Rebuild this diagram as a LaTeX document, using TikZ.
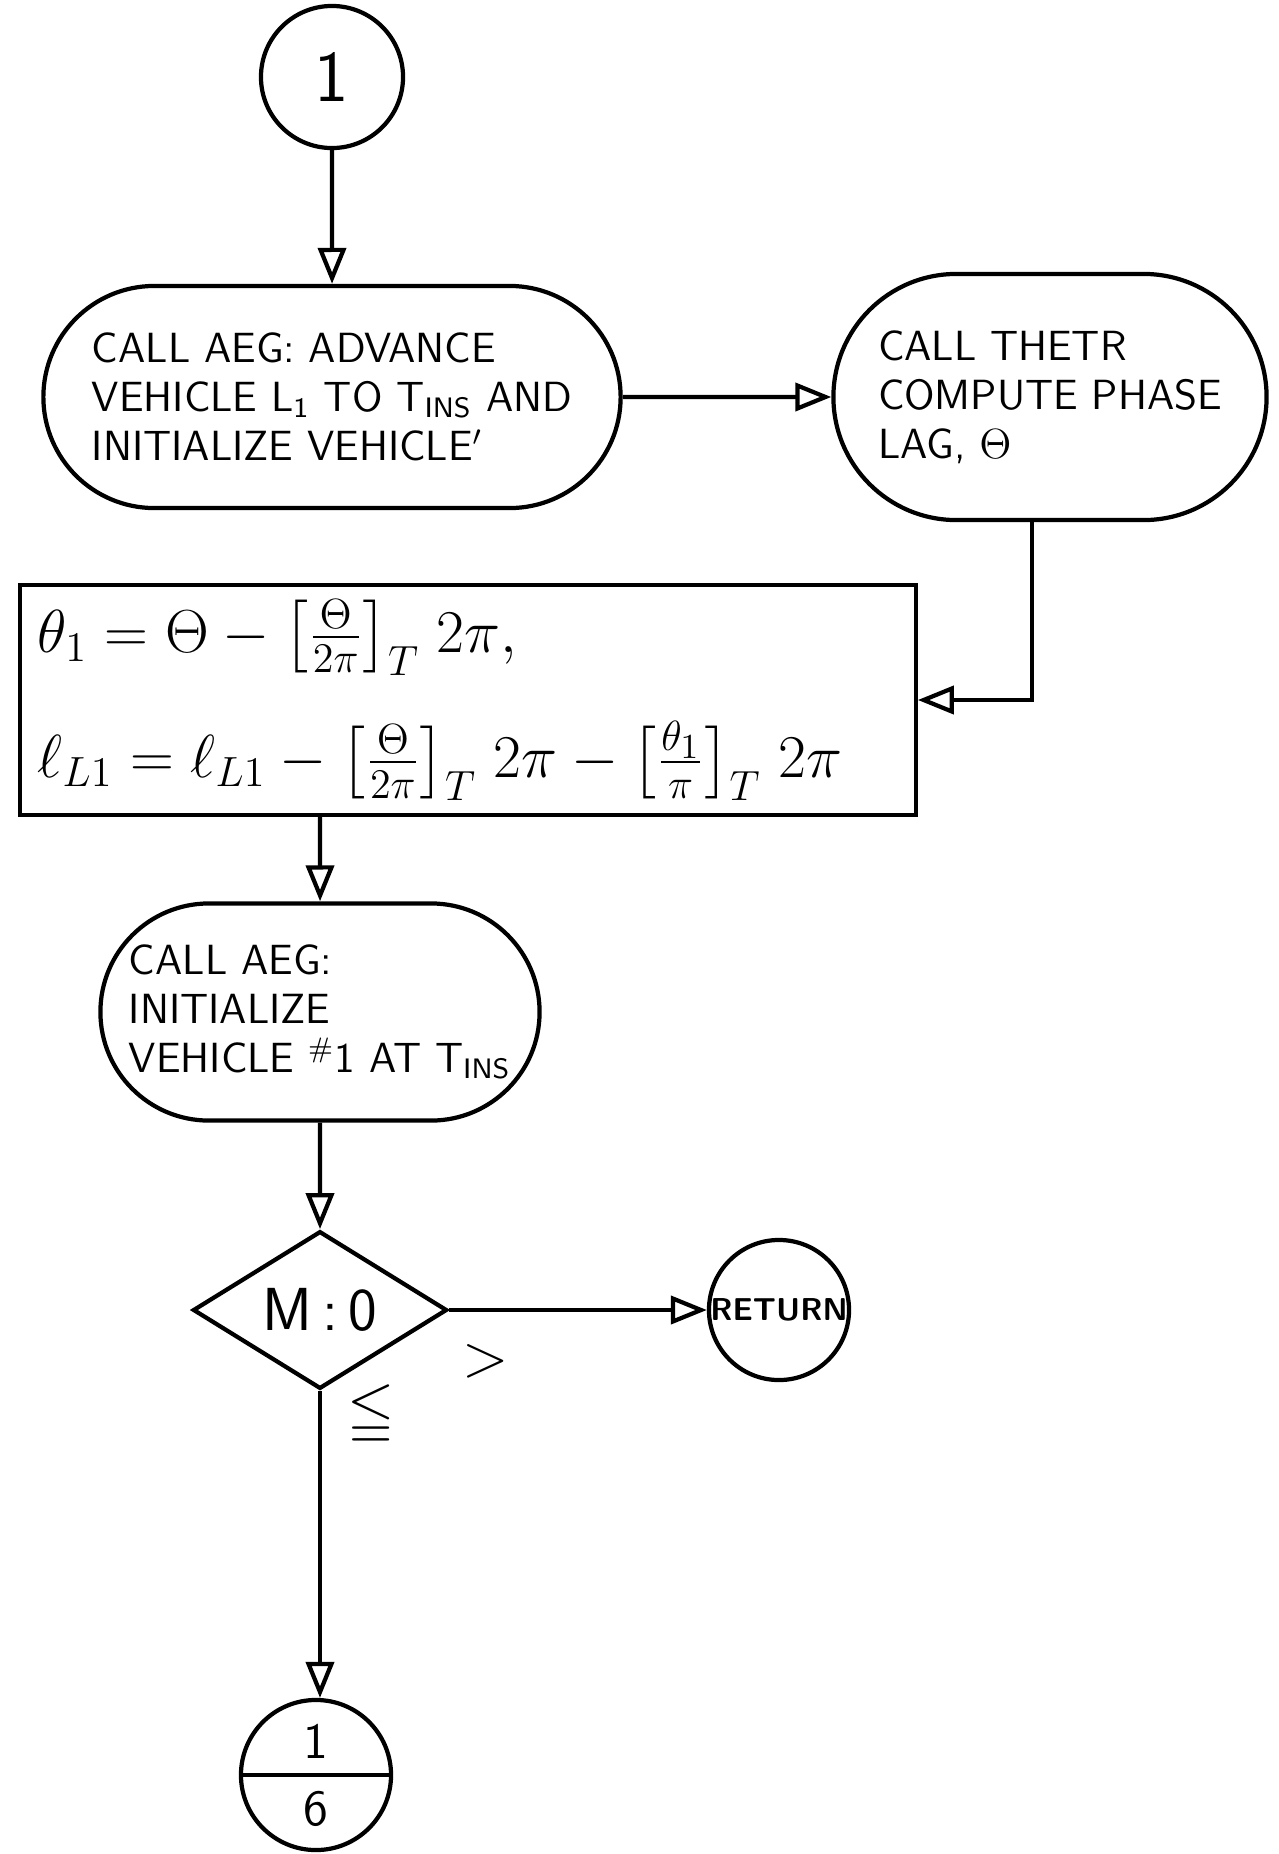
\documentclass[tikz,border=0pt]{standalone}
\usepackage{amsmath,amssymb}
\usetikzlibrary{arrows.meta,shapes.geometric,shapes.misc,shapes.multipart}

\begin{document}
\begin{tikzpicture}[x=0.01cm,y=-0.01cm,line width=1.2pt,font=\sffamily\large,
    flow/.style={-{Triangle[open,length=3.6mm,width=2.8mm]}},
    term/.style={draw,rounded rectangle,align=left,inner sep=2pt},
    proc/.style={draw,rectangle,align=left,inner sep=4pt},
    conn/.style={draw,circle,inner sep=0pt}]
  \useasboundingbox (0,0) rectangle (1279,1854);
  % entry connector
  \node[conn,minimum size=1.42cm,font=\sffamily\huge] (start) at (332,77) {1};
  % advance vehicle, then the phase lag
  \node[term,minimum width=5.91cm,minimum height=2.22cm] (adv) at (332,397)
    {CALL AEG: ADVANCE\\ VEHICLE L\textsubscript{1} TO T\textsubscript{INS} AND\\ INITIALIZE VEHICLE$'$};
  \node[term,minimum width=4.47cm,minimum height=2.46cm] (lag) at (1050,397)
    {CALL THETR\\ COMPUTE PHASE\\ LAG, $\Theta$};
  % reduce the angles
  \node[proc,minimum width=8.95cm,minimum height=2.19cm,text width=8.6cm,font=\LARGE] (upd) at (468,700)
    {$\theta_1 = \Theta - \bigl[\tfrac{\Theta}{2\pi}\bigr]_{T}\; 2\pi,$\\[12pt]
     $\ell_{L1} = \ell_{L1} - \bigl[\tfrac{\Theta}{2\pi}\bigr]_{T}\; 2\pi - \bigl[\tfrac{\theta_1}{\pi}\bigr]_{T}\; 2\pi$};
  \node[term,minimum width=4.53cm,minimum height=2.17cm] (init) at (320,1012)
    {CALL AEG:\\ INITIALIZE\\ VEHICLE \textsuperscript{\#}1 AT T\textsubscript{INS}};
  % test and exits
  \node[draw,diamond,minimum width=2.54cm,minimum height=1.42cm,inner sep=0pt,font=\sffamily\LARGE] (test) at (320,1310) {M\,:\,0};
  \node[conn,minimum size=1.4cm,font=\sffamily\small\bfseries] (ret) at (779,1310) {RETURN};
  \node[draw,circle split,minimum size=1.5cm,inner sep=4pt,font=\sffamily\Large] (off) at (316,1775) {1 \nodepart{lower} 6};

  \draw[flow] (start) -- (adv);
  \draw[flow] (adv) -- (lag);
  \draw[flow] ([xshift=-0.18cm]lag.south) |- (upd);
  \draw[flow] (upd.south -| init.north) -- (init);
  \draw[flow] (init) -- (test);
  \draw[flow] (test) -- node[pos=0.14,below=6pt,font=\LARGE] {$>$} (ret);
  \draw[flow] (test.south) -- node[pos=0.08,right=4pt,font=\LARGE] {$\leqq$} (test.south |- off.north);
\end{tikzpicture}
\end{document}
